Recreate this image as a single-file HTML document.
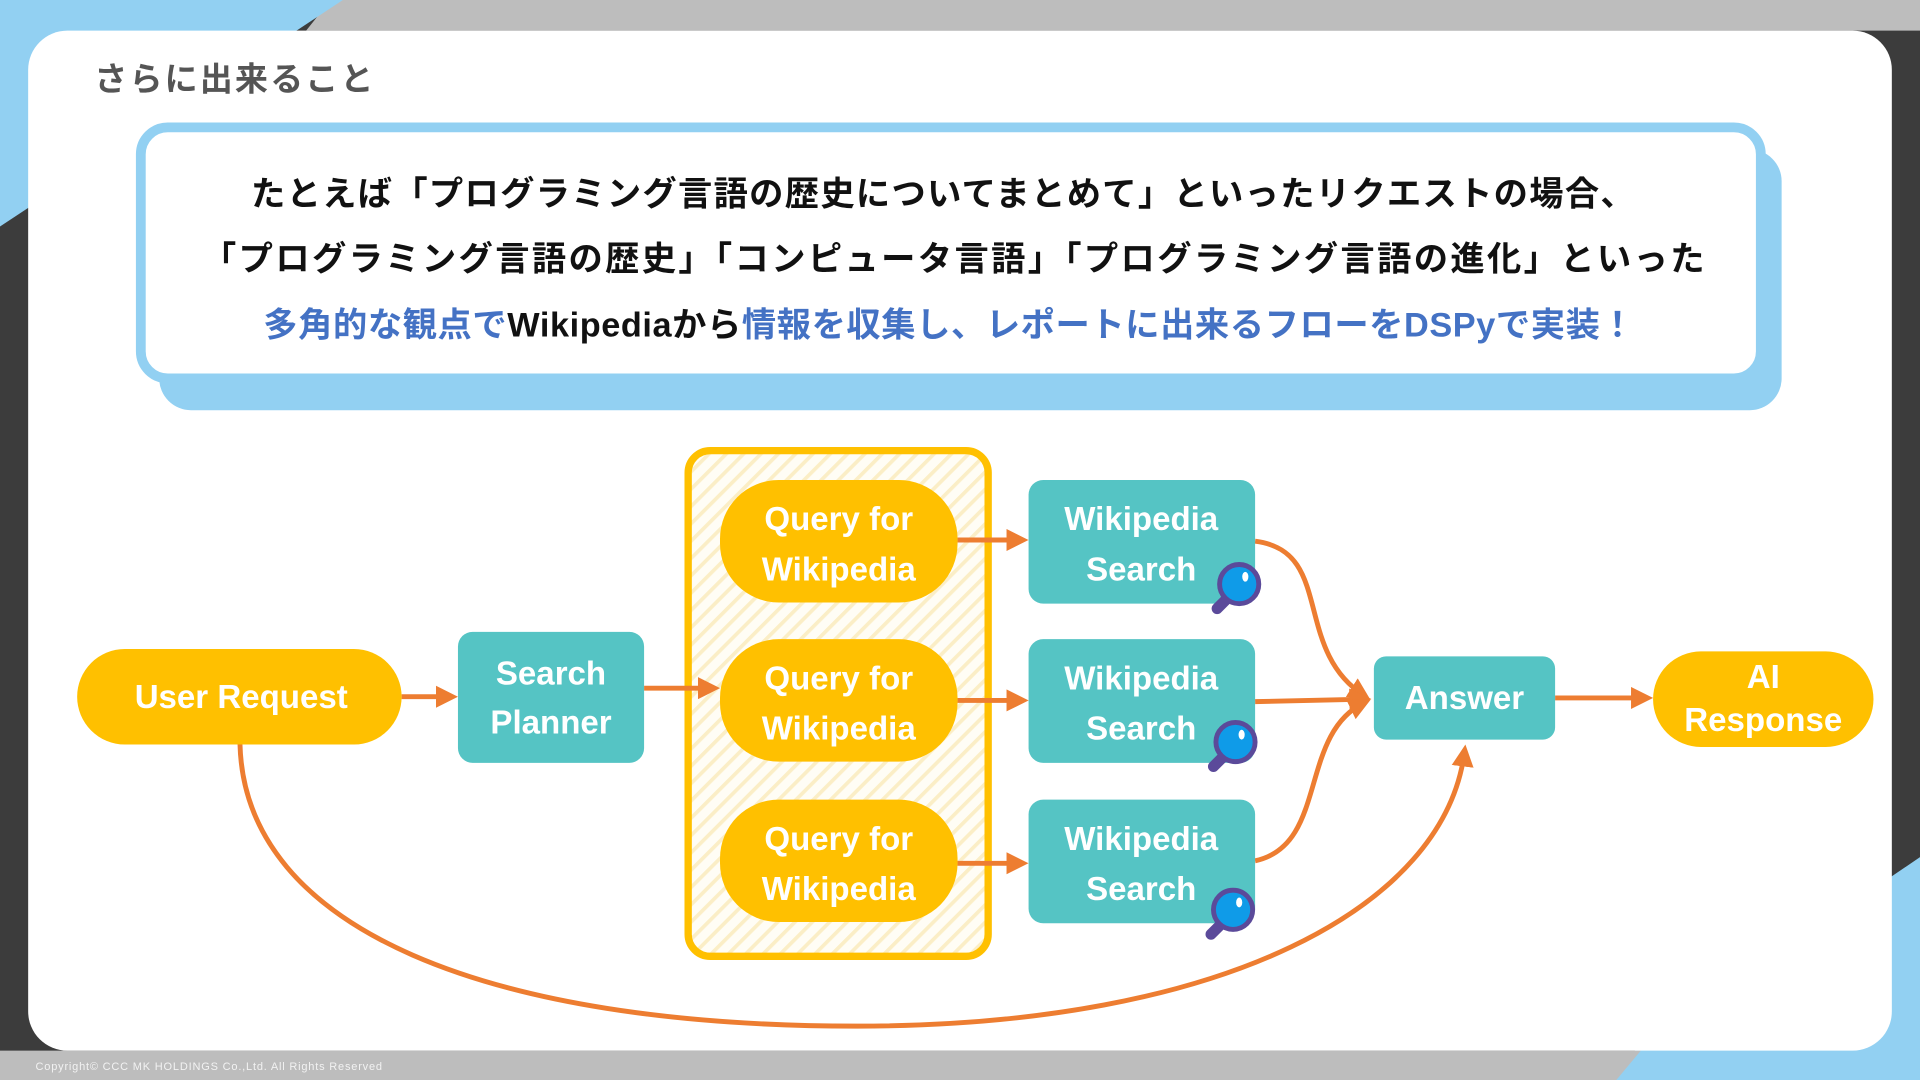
<!DOCTYPE html>
<html><head><meta charset="utf-8"><style>
html,body{margin:0;padding:0;width:1920px;height:1080px;overflow:hidden;background:#3c3c3c}
svg{display:block}
.jp{font-family:"Liberation Sans","Noto Sans CJK JP",sans-serif;font-weight:700}
.lb{font-family:"Liberation Sans","Noto Sans CJK JP",sans-serif;font-weight:700;fill:#fff;font-size:27px;text-anchor:middle}
</style></head><body>
<svg width="1920" height="1080" viewBox="0 0 1568 882" xmlns="http://www.w3.org/2000/svg">
<defs>
<pattern id="h" width="10" height="10" patternUnits="userSpaceOnUse" patternTransform="rotate(45)">
<rect width="10" height="10" fill="#fffdf5"/><rect width="3" height="10" fill="#fbeec6"/></pattern>
<marker id="a" markerWidth="4.5" markerHeight="4.5" refX="3" refY="2.25" orient="auto" markerUnits="strokeWidth"><path d="M0,0 L4.5,2.25 L0,4.5 z" fill="#ed7d31"/></marker>
<g id="mag"><line x1="-6" y1="8" x2="-18" y2="20" stroke="#5b4a9a" stroke-width="9" stroke-linecap="round"/><circle r="16" fill="#0f9be8" stroke="#5b4a9a" stroke-width="4"/><ellipse cx="5" cy="-6" rx="2.5" ry="4" fill="#fff"/></g>
</defs>
<rect width="1568" height="882" fill="#3c3c3c"/>
<polygon points="270,0 1568,0 1568,25 250,25" fill="#bdbdbd"/>
<polygon points="0,0 280,0 0,185" fill="#92d0f2"/>
<polygon points="1568,700 1568,882 1300,882" fill="#92d0f2"/>
<polygon points="0,858 1340,858 1320,882 0,882" fill="#bdbdbd"/>
<rect x="23" y="25" width="1522" height="833" rx="32" fill="#fff"/>
<text x="77" y="74" class="jp" font-size="27" fill="#555" textLength="228" lengthAdjust="spacing">さらに出来ること</text>
<rect x="130" y="122" width="1325" height="213" rx="26" fill="#92d0f2"/>
<rect x="115" y="104" width="1323" height="205" rx="22" fill="#fff" stroke="#92d0f2" stroke-width="8"/>
<g class="jp" font-size="28" fill="#111">
<text x="205" y="168" textLength="1130" lengthAdjust="spacing">たとえば「プログラミング言語の歴史についてまとめて」といったリクエストの場合、</text>
<text x="165" y="221" textLength="1227" lengthAdjust="spacing">「プログラミング言語の歴史」「コンピュータ言語」「プログラミング言語の進化」といった</text>
<text x="215" y="275" fill="#4472c4" textLength="1120" lengthAdjust="spacing">多角的な観点で<tspan fill="#111">Wikipediaから</tspan>情報を収集し、レポートに出来るフローをDSPyで実装！</text>
</g>
<rect x="562" y="368" width="245" height="413" rx="18" fill="url(#h)" stroke="#ffc000" stroke-width="6"/>
<g fill="none" stroke="#ed7d31" stroke-width="4">
<path d="M328,569 H368" marker-end="url(#a)"/>
<path d="M526,562 H582" marker-end="url(#a)"/>
<path d="M782,441 H834" marker-end="url(#a)"/>
<path d="M782,572 H834" marker-end="url(#a)"/>
<path d="M782,705 H834" marker-end="url(#a)"/>
<path d="M1025,442 C1090,450 1055,530 1114,568" marker-end="url(#a)"/>
<path d="M1025,573 L1114,571" marker-end="url(#a)"/>
<path d="M1025,703 C1085,690 1060,600 1114,574" marker-end="url(#a)"/>
<path d="M1270,570 H1344" marker-end="url(#a)"/>
<path d="M196,608 C200,760 400,838 700,838 C1000,838 1180,740 1196,614" marker-end="url(#a)"/>
</g>
<rect x="63" y="530" width="265" height="78" rx="39" fill="#ffc000"/>
<text x="197" y="578" class="lb">User Request</text>
<rect x="374" y="516" width="152" height="107" rx="12" fill="#55c4c4"/>
<text x="450" y="559" class="lb">Search</text><text x="450" y="599" class="lb">Planner</text>
<g>
<rect x="588" y="392" width="194" height="100" rx="48" fill="#ffc000"/>
<text x="685" y="433" class="lb">Query for</text><text x="685" y="474" class="lb">Wikipedia</text>
<rect x="588" y="522" width="194" height="100" rx="48" fill="#ffc000"/>
<text x="685" y="563" class="lb">Query for</text><text x="685" y="604" class="lb">Wikipedia</text>
<rect x="588" y="653" width="194" height="100" rx="48" fill="#ffc000"/>
<text x="685" y="694" class="lb">Query for</text><text x="685" y="735" class="lb">Wikipedia</text>
</g>
<g>
<rect x="840" y="392" width="185" height="101" rx="12" fill="#55c4c4"/>
<text x="932" y="433" class="lb">Wikipedia</text><text x="932" y="474" class="lb">Search</text>
<rect x="840" y="522" width="185" height="101" rx="12" fill="#55c4c4"/>
<text x="932" y="563" class="lb">Wikipedia</text><text x="932" y="604" class="lb">Search</text>
<rect x="840" y="653" width="185" height="101" rx="12" fill="#55c4c4"/>
<text x="932" y="694" class="lb">Wikipedia</text><text x="932" y="735" class="lb">Search</text>
</g>
<use href="#mag" x="1012" y="477"/>
<use href="#mag" x="1009" y="606"/>
<use href="#mag" x="1007" y="743"/>
<rect x="1122" y="536" width="148" height="68" rx="10" fill="#55c4c4"/>
<text x="1196" y="579" class="lb">Answer</text>
<rect x="1350" y="532" width="180" height="78" rx="39" fill="#ffc000"/>
<text x="1440" y="562" class="lb">AI</text><text x="1440" y="597" class="lb">Response</text>
<text x="29" y="874" font-family="Liberation Sans,sans-serif" font-size="9" fill="#f2f2f2" textLength="283" lengthAdjust="spacing">Copyright© CCC MK HOLDINGS Co.,Ltd. All Rights Reserved</text>
</svg>
</body></html>
